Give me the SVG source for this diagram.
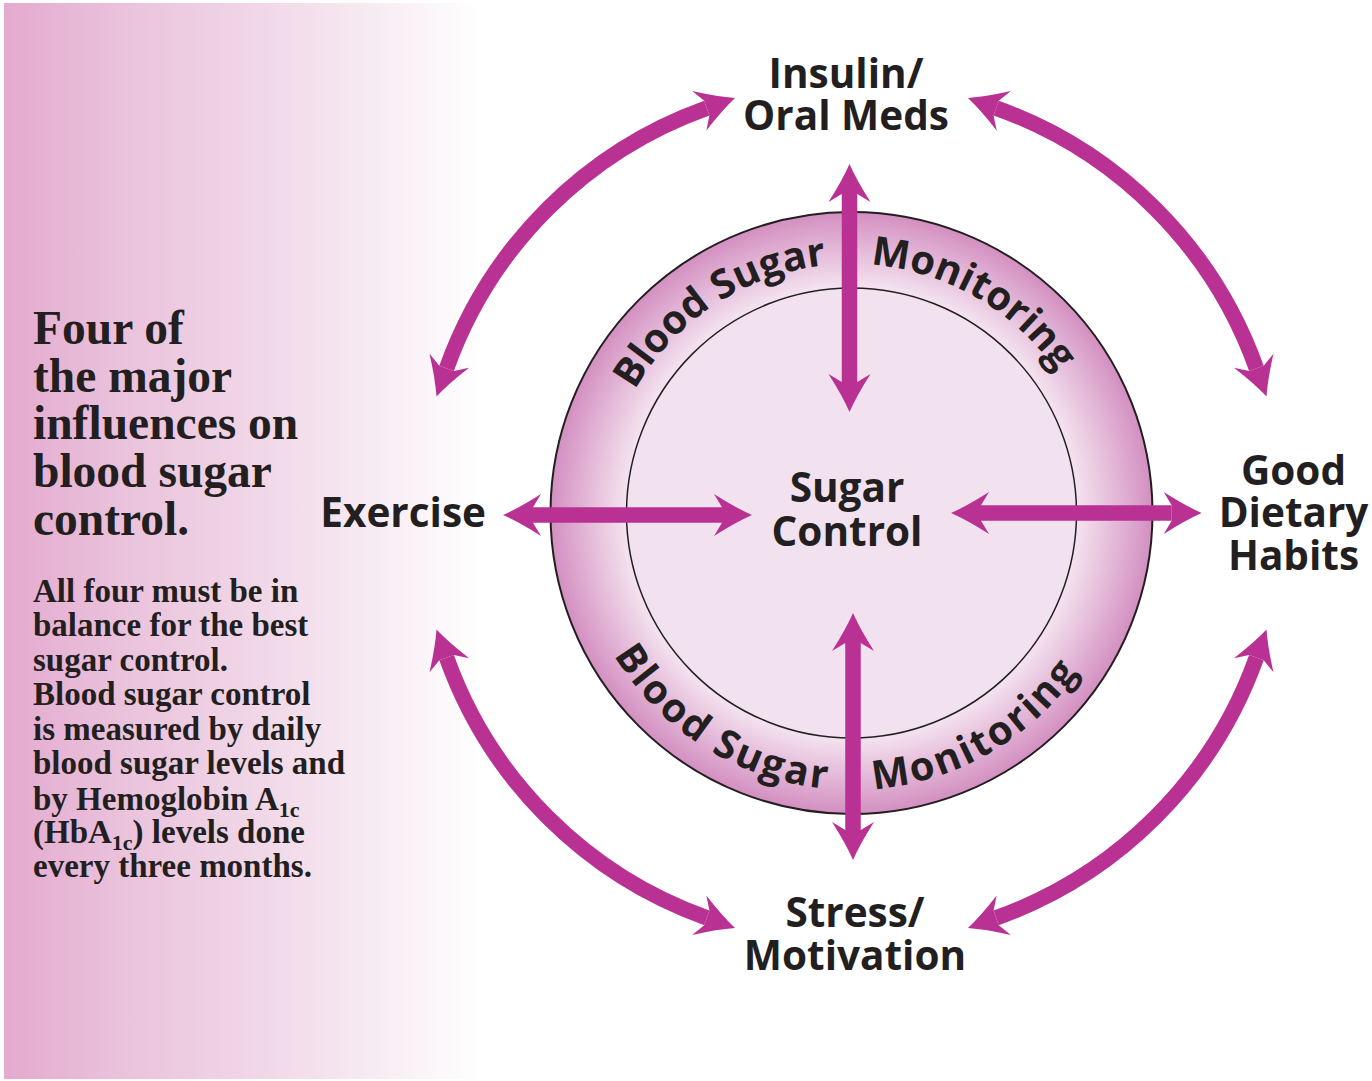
<svg xmlns="http://www.w3.org/2000/svg" xmlns:xlink="http://www.w3.org/1999/xlink" width="1372" height="1081" viewBox="0 0 1372 1081">
<style>
.lbl{font-family:"Open Sans","Noto Sans","DejaVu Sans",sans-serif;font-weight:700;font-size:40.5px;fill:#231f20;text-anchor:middle}
.ring{font-family:"Open Sans","Noto Sans","DejaVu Sans",sans-serif;font-weight:700;font-size:40px;fill:#231f20}
.head{font-family:"Liberation Serif","Times New Roman",serif;font-weight:700;font-size:47.5px;fill:#231f20}
.body{font-family:"Liberation Serif","Times New Roman",serif;font-weight:700;font-size:33px;fill:#231f20}
.arw{fill:none;stroke:#b93192;stroke-width:15.5;marker-start:url(#ah);marker-end:url(#ah)}
</style>
<defs>
<linearGradient id="panelGrad" x1="4" y1="0" x2="480" y2="0" gradientUnits="userSpaceOnUse">
<stop offset="0" stop-color="#e4aacf"/>
<stop offset="0.25" stop-color="#eac2dc"/>
<stop offset="0.55" stop-color="#f1d8e8"/>
<stop offset="0.8" stop-color="#f8edf4"/>
<stop offset="1" stop-color="#ffffff"/>
</linearGradient>
<radialGradient id="ringGrad" cx="851.5" cy="513" r="301" gradientUnits="userSpaceOnUse">
<stop offset="0.74" stop-color="#f5e6f1"/>
<stop offset="0.86" stop-color="#e6bedb"/>
<stop offset="1" stop-color="#d38fc1"/>
</radialGradient>
<marker id="ah" viewBox="-12 -25 50 50" markerWidth="50" markerHeight="50" refX="0" refY="0" markerUnits="userSpaceOnUse" orient="auto-start-reverse">
<path d="M30,0 Q14,-7 -8,-21 L0,-7.75 L0,7.75 L-8,21 Q14,7 30,0Z" fill="#b93192"/>
</marker>
<path id="topArc" d="M602.5,513 A249,249 0 0 1 1100.5,513"/>
<path id="botArc" d="M574.5,513 A277,277 0 0 0 1128.5,513"/>
</defs>

<g id="panel">
<rect x="4" y="3" width="476" height="1076" fill="url(#panelGrad)"/>
<text class="head"><tspan x="33" y="344">Four of</tspan><tspan x="33" y="392">the major</tspan><tspan x="33" y="439">influences on</tspan><tspan x="33" y="487">blood sugar</tspan><tspan x="33" y="535">control.</tspan></text>
<text class="body">
<tspan x="33" y="602">All four must be in</tspan>
<tspan x="33" y="636">balance for the best</tspan>
<tspan x="33" y="671">sugar control.</tspan>
<tspan x="33" y="705">Blood sugar control</tspan>
<tspan x="33" y="740">is measured by daily</tspan>
<tspan x="33" y="774">blood sugar levels and</tspan>
<tspan x="33" y="810">by Hemoglobin A<tspan font-size="22" dy="7">1c</tspan></tspan>
<tspan x="33" y="843">(HbA<tspan font-size="22" dy="7">1c</tspan><tspan dy="-7">) levels done</tspan></tspan>
<tspan x="33" y="877">every three months.</tspan>
</text>
</g>

<g id="node-center">
<circle cx="851.5" cy="513" r="301" fill="url(#ringGrad)" stroke="#231f20" stroke-width="2"/>
<circle cx="851.5" cy="513" r="225" fill="#f2e1ee" stroke="#231f20" stroke-width="1.5"/>
<text class="ring"><textPath xlink:href="#topArc" href="#topArc" startOffset="366" text-anchor="end">Blood Sugar</textPath></text>
<text class="ring"><textPath xlink:href="#topArc" href="#topArc" startOffset="410" text-anchor="start">Monitoring</textPath></text>
<text class="ring" letter-spacing="2.3"><textPath xlink:href="#botArc" href="#botArc" startOffset="412" text-anchor="end">Blood Sugar</textPath></text>
<text class="ring" letter-spacing="2.3"><textPath xlink:href="#botArc" href="#botArc" startOffset="457" text-anchor="start">Monitoring</textPath></text>
<text class="lbl"><tspan x="847" y="502">Sugar</tspan><tspan x="847" y="546">Control</tspan></text>
</g>

<g id="node-insulin">
<text class="lbl"><tspan x="846" y="88">Insulin/</tspan><tspan x="846" y="130">Oral Meds</tspan></text>
</g>
<g id="node-exercise">
<text class="lbl" style="text-anchor:end"><tspan x="486" y="527">Exercise</tspan></text>
</g>
<g id="node-dietary">
<text class="lbl"><tspan x="1293.5" y="485">Good</tspan><tspan x="1293.5" y="527">Dietary</tspan><tspan x="1293.5" y="570">Habits</tspan></text>
</g>
<g id="node-stress">
<text class="lbl"><tspan x="855" y="927">Stress/</tspan><tspan x="855" y="970">Motivation</tspan></text>
</g>

<g id="connectors">
<path class="arw" d="M849.5,194 L849.5,382"/>
<path class="arw" d="M853,643 L853,830"/>
<path class="arw" d="M533,515 L722,515"/>
<path class="arw" d="M981,513 L1171.7,513"/>
<path class="arw" d="M446.6,368.3 A430,430 0 0 1 706.8,108.1"/>
<path class="arw" d="M996.2,108.1 A430,430 0 0 1 1256.4,368.3"/>
<path class="arw" d="M1256.4,657.7 A430,430 0 0 1 996.2,917.9"/>
<path class="arw" d="M706.8,917.9 A430,430 0 0 1 446.6,657.7"/>
</g>
</svg>
